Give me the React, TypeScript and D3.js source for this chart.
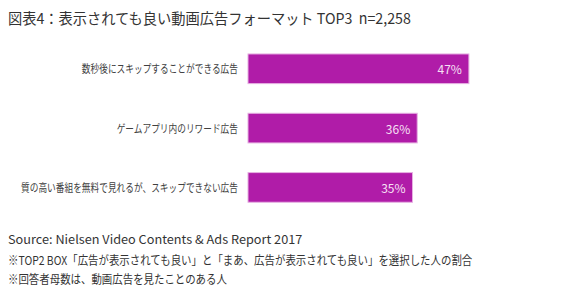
import React, { useRef, useEffect } from 'react';
import * as d3 from 'd3';

const WIDTH = 580;
const HEIGHT = 294;

const TITLE = '図表4：表示されても良い動画広告フォーマット TOP3 \u00a0n=2,258';
const categories = [
  '数秒後にスキップすることができる広告',
  'ゲームアプリ内のリワード広告',
  '質の高い番組を無料で見れるが、スキップできない広告',
];
const values = [47, 36, 35];
const notes = [
  'Source: Nielsen Video Contents & Ads Report 2017',
  '※TOP2 BOX「広告が表示されても良い」と「まあ、広告が表示されても良い」を選択した人の割合',
  '※回答者母数は、動画広告を見たことのある人',
];

const FONT = '"Noto Sans CJK JP", "Noto Sans", sans-serif';
const BAR = '#b01ca8';

export default function App() {
  const svgRef = useRef<SVGSVGElement>(null);

  useEffect(() => {
    if (!svgRef.current) return;
    const svg = d3.select(svgRef.current);
    svg.selectAll('*').remove();

    const x0 = 248;
    const x = d3.scaleLinear().domain([0, 100]).range([0, 470]);
    const y = d3.scaleBand<string>().domain(categories).range([24.3, 231.9]).padding(0.5);

    // title
    svg.append('g').attr('transform', 'translate(8,17) scale(0.95,1)')
      .append('text')
      .attr('dominant-baseline', 'central')
      .attr('font-size', 15).attr('font-family', FONT).attr('fill', '#333')
      .text(TITLE);

    const rows = svg.append('g').selectAll('g')
      .data(categories.map((c, i) => ({ c, v: values[i] })))
      .join('g');

    rows.append('rect')
      .attr('x', x0)
      .attr('y', d => y(d.c)!)
      .attr('width', d => x(d.v))
      .attr('height', y.bandwidth())
      .attr('fill', BAR)
      .attr('stroke', '#e6b0e2').attr('stroke-width', 1);

    rows.append('g')
      .attr('transform', d => `translate(238,${y(d.c)! + y.bandwidth() / 2}) scale(0.79,1)`)
      .append('text')
      .attr('text-anchor', 'end').attr('dominant-baseline', 'central')
      .attr('font-size', 11).attr('font-family', FONT).attr('fill', '#404040')
      .text(d => d.c);

    rows.append('text')
      .attr('x', d => x0 + x(d.v) - 7)
      .attr('y', d => y(d.c)! + y.bandwidth() / 2)
      .attr('text-anchor', 'end').attr('dominant-baseline', 'central')
      .attr('font-size', 12).attr('font-family', FONT).attr('fill', '#f6e0f4')
      .text(d => `${d.v}%`);

    // footnotes
    const noteY = [239, 259.5, 279];
    const noteScale = [1.06, 0.87, 0.87];
    svg.append('g').selectAll('g')
      .data(notes)
      .join('g')
      .attr('transform', (d, i) => `translate(8,${noteY[i]}) scale(${noteScale[i]},1)`)
      .append('text')
      .attr('dominant-baseline', 'central')
      .attr('font-size', 12).attr('font-family', FONT).attr('fill', '#333')
      .text(d => d);
  }, []);

  return (
    <svg ref={svgRef} width={WIDTH} height={HEIGHT}
      style={{ position: 'absolute', left: 0, top: 0, background: '#fff' }} />
  );
}
